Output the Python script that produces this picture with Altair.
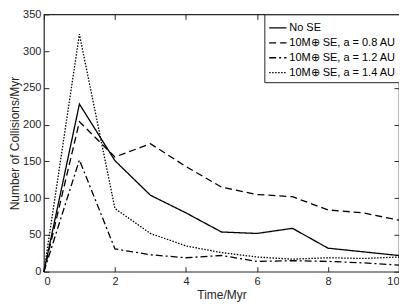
import altair as alt
import pandas as pd

time_myr = [0, 1, 2, 3, 4, 5, 6, 7, 8, 9, 10]
no_se = [0, 228, 151, 104, 80, 54, 52, 59, 32, 27, 22]
se_08 = [0, 204, 156, 174, 143, 115, 105, 102, 84, 80, 70]
se_12 = [0, 152, 31, 23, 19, 22, 14, 15, 14, 12, 9]
se_14 = [0, 323, 86, 52, 35, 26, 20, 17, 19, 18, 20]

names = ["No SE", "10M⊕ SE, a = 0.8 AU", "10M⊕ SE, a = 1.2 AU", "10M⊕ SE, a = 1.4 AU"]
series = [no_se, se_08, se_12, se_14]
x_ticks = [0, 2, 4, 6, 8, 10]
y_ticks = [0, 50, 100, 150, 200, 250, 300, 350]

rows = []
for n, vals in zip(names, series):
    for t, v in zip(time_myr, vals):
        rows.append({"t": t, "v": v, "s": n})
df = pd.DataFrame(rows)

FONT = "Liberation Sans"
TXT = "#262626"

xscale = alt.Scale(domain=[0, 10], nice=False)
yscale = alt.Scale(domain=[0, 350], nice=False)

lines = alt.Chart(df).mark_line(strokeWidth=1.3, color="black").encode(
    x=alt.X("t:Q", scale=xscale, title="Time/Myr",
            axis=alt.Axis(orient="bottom", values=x_ticks, domain=False, tickSize=5, offset=-5,
                          tickColor=TXT, labelPadding=4, titlePadding=3)),
    y=alt.Y("v:Q", scale=yscale, title="Number of Collisions/Myr",
            axis=alt.Axis(orient="left", values=y_ticks, domain=False, tickSize=5, offset=-5,
                          tickColor=TXT, labelPadding=3, titlePadding=1)),
    strokeDash=alt.StrokeDash("s:N", sort=names,
                              scale=alt.Scale(domain=names,
                                              range=[[1, 0], [7, 4], [7, 3, 2, 3], [1.5, 1.5]]),
                              legend=alt.Legend(title=None, orient="none", legendX=221, legendY=0,
                                                symbolType="stroke", symbolSize=300,
                                                symbolStrokeColor="black", symbolStrokeWidth=1.3,
                                                labelFont=FONT, labelFontSize=11, labelColor="black",
                                                rowPadding=-1, padding=4, strokeColor="#262626",
                                                fillColor="white", labelOffset=2)),
)

frame_axes = alt.Chart(df).mark_line(opacity=0).encode(
    x=alt.X("t:Q", scale=xscale,
            axis=alt.Axis(orient="top", values=x_ticks, domain=False, labels=False, title=None,
                          tickSize=5, offset=-5, tickColor=TXT)),
    y=alt.Y("v:Q", scale=yscale,
            axis=alt.Axis(orient="right", values=y_ticks, domain=False, labels=False, title=None,
                          tickSize=5, offset=-5, tickColor=TXT)),
    detail="s:N",
)

chart = alt.layer(lines, frame_axes).resolve_axis(x="independent", y="independent").properties(
    width=356, height=258,
    autosize=alt.AutoSizeParams(type="none"),
    padding={"left": 36, "top": 6, "right": 0, "bottom": 30},
).configure_view(stroke=TXT, strokeWidth=1.2).configure_axis(
    labelFont=FONT, labelFontSize=11, labelColor=TXT, titleFont=FONT, titleFontSize=12,
    titleColor=TXT, titleFontWeight="normal", grid=False,
)

chart.save("out.html", embed_options={"renderer": "svg", "actions": False})
